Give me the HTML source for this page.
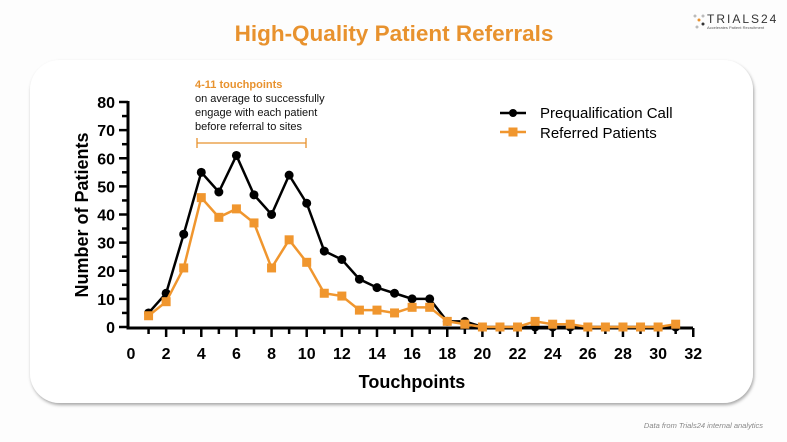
<!DOCTYPE html>
<html><head><meta charset="utf-8"><style>
html,body{margin:0;padding:0;background:#fff;width:787px;height:442px;overflow:hidden}
</style></head><body>
<svg width="787" height="442" xmlns="http://www.w3.org/2000/svg" font-family="Liberation Sans, sans-serif">
<defs><filter id="sh" x="-5%" y="-5%" width="110%" height="115%"><feDropShadow dx="1" dy="2" stdDeviation="1.5" flood-color="#000" flood-opacity="0.35"/></filter></defs>
<rect x="0" y="0" width="787" height="442" fill="#fdfdfd"/>
<rect x="30" y="60" width="723" height="343" rx="30" fill="#fff" filter="url(#sh)"/>
<text x="394" y="41" text-anchor="middle" font-size="22.5" font-weight="bold" fill="#e8922e">High-Quality Patient Referrals</text>
<g font-size="12" fill="#333">
<circle cx="695" cy="16" r="1.5" fill="#bbb"/><circle cx="699" cy="20" r="1.5" fill="#e8922e"/><circle cx="703" cy="16" r="1.5" fill="#bbb"/><circle cx="703" cy="24" r="1.5" fill="#333"/><circle cx="697" cy="27" r="1.5" fill="#bbb"/>
<text x="707" y="23" font-size="12" letter-spacing="2">TRIALS24</text>
<text x="707" y="29" font-size="4" fill="#555">Accelerates Patient Recruitment</text>
</g>
<text x="763" y="428" text-anchor="end" font-size="7.5" font-style="italic" fill="#888">Data from Trials24 internal analytics</text>
<text x="195" y="88" font-size="11" font-weight="bold" fill="#e8922e">4-11 touchpoints</text>
<text x="195" y="102" font-size="11" fill="#111">on average to successfully</text>
<text x="195" y="116" font-size="11" fill="#111">engage with each patient</text>
<text x="195" y="130" font-size="11" fill="#111">before referral to sites</text>
<g stroke="#e8922e" stroke-width="1.3"><line x1="197" y1="143" x2="306" y2="143"/><line x1="197" y1="138" x2="197" y2="148"/><line x1="306" y1="138" x2="306" y2="148"/></g>
<g stroke="#000" stroke-width="3">
<line x1="128" y1="101" x2="128" y2="329"/>
<line x1="126.5" y1="328" x2="693" y2="328"/>
</g>
<g id="yt" stroke="#000" stroke-width="2.5"></g>
<g id="xt" stroke="#000" stroke-width="2.5"></g>
<g id="yl" font-size="16" font-weight="bold" text-anchor="end"></g>
<g id="xl" font-size="16" font-weight="bold" text-anchor="middle"></g>
<text transform="translate(88,215) rotate(-90)" text-anchor="middle" font-size="18" font-weight="bold">Number of Patients</text>
<text x="412" y="388" text-anchor="middle" font-size="18" font-weight="bold">Touchpoints</text>
<polyline id="pb" fill="none" stroke="#000" stroke-width="2.5"/>
<g id="mb"></g>
<polyline id="po" fill="none" stroke="#f0962e" stroke-width="2.5"/>
<g id="mo"></g>
<line x1="500" y1="113" x2="526" y2="113" stroke="#000" stroke-width="2.5"/><circle cx="513" cy="113" r="4" fill="#000"/>
<text x="540" y="118" font-size="15">Prequalification Call</text>
<line x1="500" y1="132" x2="526" y2="132" stroke="#f0962e" stroke-width="2.5"/><rect x="508.5" y="127.5" width="9" height="9" fill="#f0962e"/>
<text x="540" y="138" font-size="15">Referred Patients</text>
</svg>
<script>
const ns="http://www.w3.org/2000/svg";
const X=t=>131+17.57*t, Y=v=>327-2.8125*v;
function el(p,n,a,txt){const e=document.createElementNS(ns,n);for(const k in a)e.setAttribute(k,a[k]);if(txt!=null)e.textContent=txt;document.getElementById(p).appendChild(e);}
for(let v=0;v<=80;v+=5){const y=Y(v);el('yt','line',{x1:v%10?122:119,y1:y,x2:128,y2:y});if(v%10==0)el('yl','text',{x:115,y:y+6},v);}
for(let t=1;t<=32;t++){const x=X(t);el('xt','line',{x1:x,y1:328,x2:x,y2:t%2?334:337});}
for(let t=0;t<=32;t+=2)el('xl','text',{x:X(t),y:359},t);
const b=[5,12,33,55,48,61,47,40,54,44,27,24,17,14,12,10,10,2,2,0,0,0,0,0,0,0,0,0,0,0,0];
const o=[4,9,21,46,39,42,37,21,31,23,12,11,6,6,5,7,7,2,1,0,0,0,2,1,1,0,0,0,0,0,1];
document.getElementById('pb').setAttribute('points',b.map((v,i)=>X(i+1)+','+Y(v)).join(' '));
document.getElementById('po').setAttribute('points',o.map((v,i)=>X(i+1)+','+Y(v)).join(' '));
b.forEach((v,i)=>el('mb','circle',{cx:X(i+1),cy:Y(v),r:4.5,fill:'#000'}));
o.forEach((v,i)=>el('mo','rect',{x:X(i+1)-4.5,y:Y(v)-4.5,width:9,height:9,fill:'#f0962e'}));
</script>
</body></html>
